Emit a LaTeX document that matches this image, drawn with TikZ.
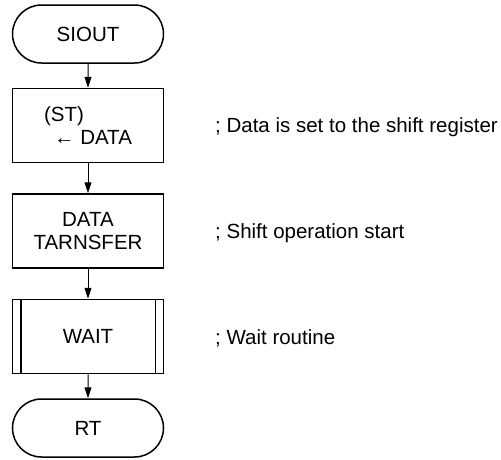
\documentclass[tikz,border=0pt]{standalone}
\usepackage{fontspec}
\setmainfont{Liberation Sans}
\usetikzlibrary{shapes.misc,arrows.meta}

\begin{document}
\begin{tikzpicture}[x=1pt,y=-1pt,font=\fontsize{20.5}{23}\selectfont,
  term/.style={rounded rectangle,draw,line width=1.5pt,minimum width=151pt,minimum height=58pt,inner sep=0pt},
  proc/.style={rectangle,draw,line width=1.5pt,minimum width=151pt,minimum height=74pt,inner sep=0pt,align=left},
  flow/.style={-{Triangle[length=11pt,width=7pt]},line width=1pt},
  remark/.style={anchor=base west,inner sep=0pt}]
\useasboundingbox (0,0) rectangle (501,459);
\node[term] (siout) at (88,34) {SIOUT};
\node[proc] (setdata) at (88,125.5) {(ST)\\\hspace*{10pt}← DATA};
\node[proc,align=center] (xfer) at (88,231) {DATA\\TARNSFER};
\node[proc] (wait) at (88,336.5) {WAIT};
\node[term] (rt) at (88,428) {RT};
\draw[line width=1.5pt] ([xshift=9pt]wait.north west) -- ([xshift=9pt]wait.south west)
  ([xshift=-9pt]wait.north east) -- ([xshift=-9pt]wait.south east);
\draw[flow] (siout) -- (setdata);
\draw[flow] (setdata) -- (xfer);
\draw[flow] (xfer) -- (wait);
\draw[flow] (wait) -- (rt);
\node[remark] (c1) at (215,132.5) {; Data is set to the shift register};
\node[remark] (c2) at (215,238) {; Shift operation start};
\node[remark] (c3) at (215,344) {; Wait routine};
\end{tikzpicture}
\end{document}
